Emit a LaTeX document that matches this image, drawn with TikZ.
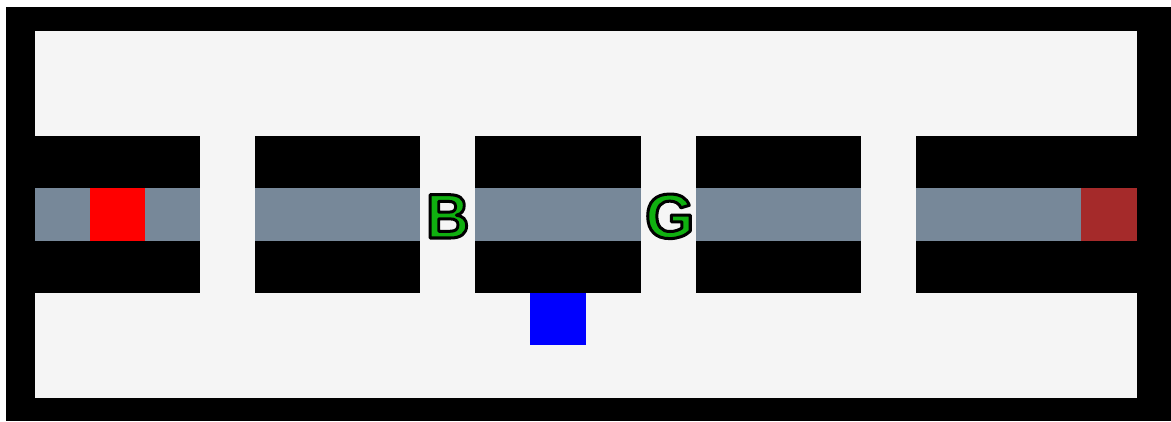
\documentclass[tikz,border=0pt]{standalone}
\usepackage{fontspec}
\setmainfont{Liberation Sans}
\definecolor{floor}{HTML}{F5F5F5}
\definecolor{lane}{HTML}{778899}
\definecolor{goalred}{HTML}{A52A2A}
\definecolor{markgreen}{HTML}{10B010}
% filled letters with a black outline (PDF text render mode 2)
\newcommand\outlined[1]{\special{pdf:code 2 Tr 3.0 w 1 j 0 0 0 RG}#1\special{pdf:code 0 Tr}}
\tikzset{
  wall/.style={fill=black},
  lanecell/.style={fill=lane},
  letter/.style={inner sep=0pt, anchor=base, text=markgreen,
    font=\bfseries\fontsize{63}{63}\selectfont},
}
% one grid cell: column, row, style
\newcommand\gridcell[3]{\fill[#3] ({34.5+#1*55.1},{31+#2*52.4}) rectangle ++(55.1,52.4);}
\begin{document}
\begin{tikzpicture}[x=1pt,y=-1pt]
  \useasboundingbox (0,0) rectangle (1171,421);
  \fill[white] (0,0) rectangle (1171,421);
  % outer wall and open floor
  \fill[black] (6,7) rectangle (1171,421);
  \fill[floor] (34.5,31) rectangle (1136.5,397.8);
  % wall blocks with the lane through their middle row
  \foreach \c in {0,1,2,4,5,6,8,9,10,12,13,14,16,17,18,19}{
    \gridcell{\c}{2}{wall}
    \gridcell{\c}{3}{lanecell}
    \gridcell{\c}{4}{wall}
  }
  % coloured markers
  \gridcell{1}{3}{fill=red}
  \gridcell{19}{3}{fill=goalred}
  \gridcell{9}{5}{fill=blue}
  % labelled gaps
  \node[letter, xscale=0.95] (B) at ({34.5+7.5*55.1},238) {\outlined{B}};
  \node[letter] (G) at ({34.5+11.5*55.1+1.5},238) {\outlined{G}};
\end{tikzpicture}
\end{document}
